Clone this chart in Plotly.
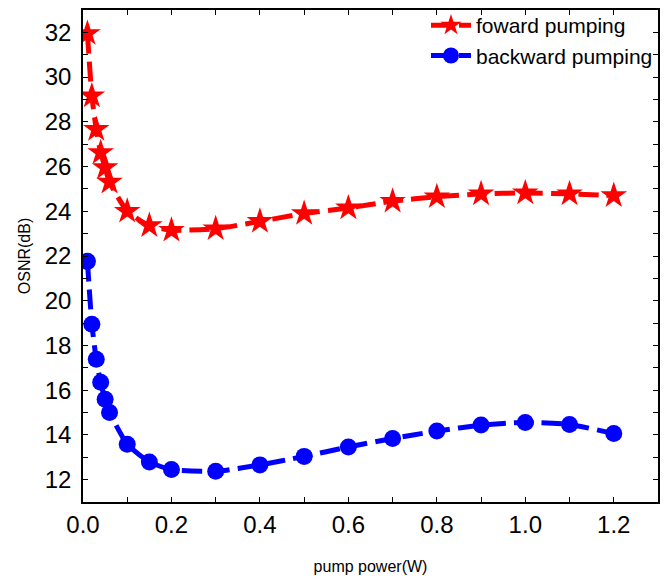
import plotly.graph_objects as go

pump_power = [0.01, 0.02, 0.03, 0.04, 0.05, 0.06, 0.1, 0.15, 0.2, 0.3, 0.4, 0.5, 0.6, 0.7, 0.8, 0.9, 1.0, 1.1, 1.2]
forward_osnr = [31.95, 29.16, 27.66, 26.62, 25.95, 25.3, 24.0, 23.36, 23.15, 23.22, 23.55, 23.9, 24.15, 24.45, 24.65, 24.78, 24.82, 24.78, 24.7]
backward_osnr = [21.76, 18.95, 17.38, 16.35, 15.59, 15.0, 13.58, 12.79, 12.45, 12.37, 12.66, 13.04, 13.46, 13.84, 14.17, 14.44, 14.56, 14.47, 14.06]

x_ticks = [0.0, 0.2, 0.4, 0.6, 0.8, 1.0, 1.2]
x_tick_labels = ["0.0", "0.2", "0.4", "0.6", "0.8", "1.0", "1.2"]
y_ticks = [12, 14, 16, 18, 20, 22, 24, 26, 28, 30, 32]

FONT = "Arial, Liberation Sans, sans-serif"

fig = go.Figure()
fig.add_trace(go.Scatter(
    x=pump_power, y=forward_osnr, name="foward pumping",
    mode="lines+markers",
    line=dict(color="#ff0000", width=5, dash="20px,8px", shape="spline", smoothing=0.5),
    marker=dict(symbol="star", size=20, color="#ff0000", line=dict(width=0)),
))
fig.add_trace(go.Scatter(
    x=pump_power, y=backward_osnr, name="backward pumping",
    mode="lines+markers",
    line=dict(color="#0000ff", width=5, dash="20px,8px", shape="spline", smoothing=0.5),
    marker=dict(symbol="circle", size=17, color="#0000ff", line=dict(width=0)),
))

axis_common = dict(
    showgrid=False, zeroline=False, showline=True, linecolor="black", linewidth=1.5,
    mirror="allticks", ticks="inside", ticklen=5, tickwidth=1.2, tickcolor="black",
    tickfont=dict(family=FONT, size=24, color="black"), automargin=False,
)

fig.update_layout(
    width=668, height=579,
    margin=dict(l=83, r=10, t=10, b=77, autoexpand=False),
    plot_bgcolor="white", paper_bgcolor="white",
    font=dict(family=FONT, color="black"),
    xaxis=dict(
        range=[0, 1.3], tickvals=x_ticks, ticktext=x_tick_labels,
        minor=dict(dtick=0.1, ticks="inside", ticklen=5, tickcolor="black", tickwidth=1.2),
        title=dict(text="pump power(W)", font=dict(family=FONT, size=16), standoff=24),
        ticklabelstandoff=0,
        **axis_common,
    ),
    yaxis=dict(
        range=[11, 33], tickvals=y_ticks,
        minor=dict(dtick=1, ticks="inside", ticklen=5, tickcolor="black", tickwidth=1.2),
        title=dict(text="OSNR(dB)", font=dict(family=FONT, size=16), standoff=10),
        ticklabelstandoff=5,
        **axis_common,
    ),
    legend=dict(
        x=0.5965, xanchor="left", y=1.01, yanchor="top",
        bgcolor="rgba(0,0,0,0)", font=dict(family=FONT, size=21),
        itemwidth=40, tracegroupgap=0,
    ),
    showlegend=True,
)

fig.write_html("out.html", config={"displayModeBar": False},
               post_script="document.body.style.margin='0';")
